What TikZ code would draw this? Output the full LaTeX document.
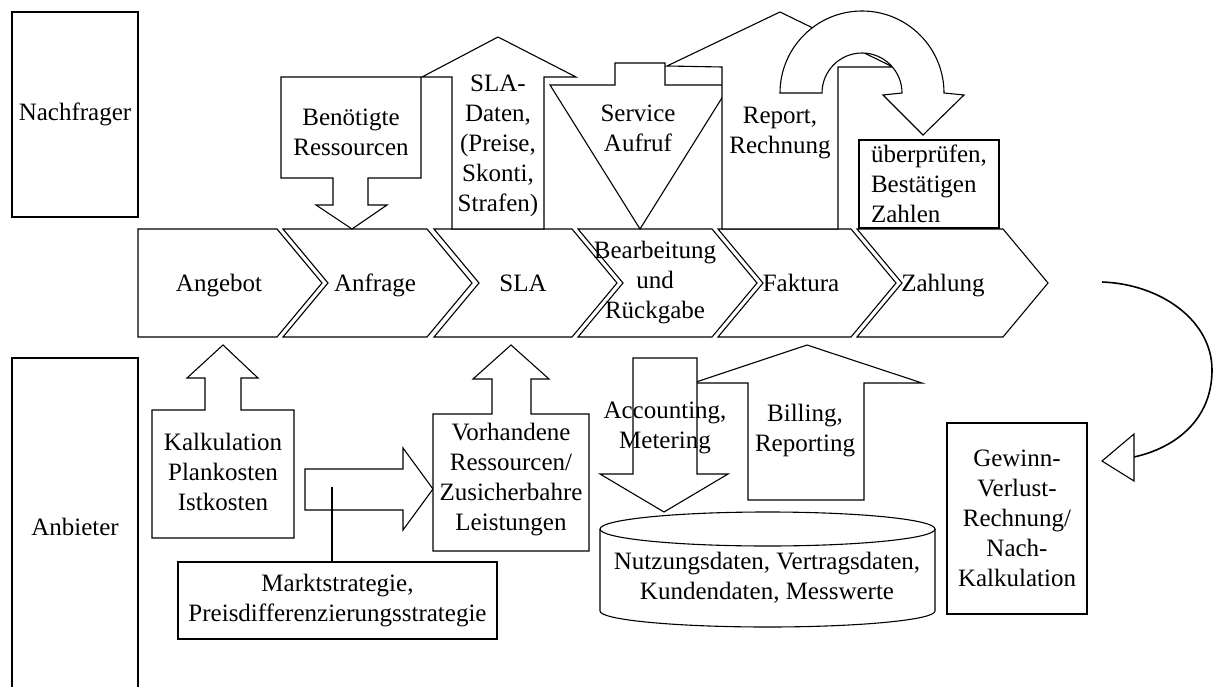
\documentclass[tikz,border=0pt]{standalone}
\usepackage{fontspec}
\setmainfont{Liberation Serif}
\newcommand\mydiafont{\fontsize{25}{30}\selectfont}
\tikzset{
  shp/.style={draw, line width=1.1pt, fill=white, line join=miter},
  lbl/.style={font=\mydiafont, align=center, inner sep=0pt},
  blbl/.style={font=\mydiafont, inner sep=0pt, anchor=base},
  box/.style={draw, line width=1.1pt, fill=white, font=\mydiafont, align=center, inner sep=0pt},
  conn/.style={draw, line width=1.1pt}
}
\begin{document}
\begin{tikzpicture}[x=1pt, y=-1pt]
\useasboundingbox (0,0) rectangle (1214,687);

% actor boxes
\node[box, minimum width=126pt, minimum height=205pt] (nach) at (75,114.5) {Nachfrager};
\draw[line width=1.1pt] (12,687) -- (12,358) -- (138,358) -- (138,687);
\node[blbl] (anb) at (75,535) {Anbieter};

% process chevrons
\draw[shp] (138,229) -- (277,229) -- (322,283) -- (277,337) -- (138,337) -- cycle;
\draw[shp] (283,229) -- (427,229) -- (472,283) -- (427,337) -- (283,337) -- (328,283) -- cycle;
\draw[shp] (434,229) -- (572,229) -- (617,283) -- (572,337) -- (434,337) -- (479,283) -- cycle;
\draw[shp] (578,229) -- (712,229) -- (757,283) -- (712,337) -- (578,337) -- (623,283) -- cycle;
\draw[shp] (718,229) -- (851,229) -- (896,283) -- (851,337) -- (718,337) -- (763,283) -- cycle;
\draw[shp] (857,229) -- (1003,229) -- (1048,283) -- (1003,337) -- (857,337) -- (902,283) -- cycle;
\node[blbl] (c1) at (219,291) {Angebot};
\node[blbl] (c2) at (375,291) {Anfrage};
\node[blbl] (c3) at (523,291) {SLA};
\node[lbl] (c4) at (655,283) {Bearbeitung\\und\\Rückgabe};
\node[blbl] (c5) at (801,291) {Faktura};
\node[blbl] (c6) at (943,291) {Zahlung};

% upper block arrows
\draw[shp] (281,77) -- (421,77) -- (421,178) -- (368,178) -- (368,205) -- (387,205) -- (352,229) -- (316,205) -- (333,205) -- (333,178) -- (281,178) -- cycle;
\node[lbl] (ben) at (351,132) {Benötigte\\Ressourcen};

\draw[shp] (452,229) -- (452,77) -- (422,77) -- (498,37) -- (576,77) -- (544,77) -- (544,229) -- cycle;
\node[lbl] (slad) at (498,146) {SLA-\\Daten,\\(Preise,\\Skonti,\\Strafen)};

\draw[shp] (615,63) -- (665,63) -- (665,85) -- (730,85) -- (640,229) -- (550,85) -- (615,85) -- cycle;
\node[lbl] (serv) at (638,128) {Service\\Aufruf};

\draw[shp] (722,229) -- (722,67) -- (667,66) -- (780,12) -- (893,67) -- (838,67) -- (838,229) -- cycle;
\node[lbl] (rep) at (780,133) {Report,\\Rechnung};

\draw[shp] (780,93) arc[start angle=180, end angle=360, radius=82] -- (964,95) -- (923,135) -- (883,95) -- (902,93) arc[start angle=0, end angle=-180, radius=40] -- cycle;

\node[box, minimum width=140pt, minimum height=88pt, text width=116pt, align=left] (ueb) at (929,184) {überprüfen,\\Bestätigen\\Zahlen};

% lower block arrows
\draw[shp] (152,538) -- (152,410) -- (205,410) -- (205,378) -- (187,378) -- (223,345) -- (258,378) -- (241,378) -- (241,410) -- (294,410) -- (294,538) -- cycle;
\node[lbl] (kalk) at (223,472) {Kalkulation\\Plankosten\\Istkosten};

\draw[shp] (305,469) -- (403,469) -- (403,448) -- (433,489) -- (403,530) -- (403,510) -- (305,510) -- cycle;
\node[box, minimum width=319pt, minimum height=77pt] (markt) at (337.5,600.5) {Marktstrategie,\\Preisdifferenzierungsstrategie};
\coordinate (mk) at (332,487);
\draw[conn] (markt.north -| mk) -- (mk);

\draw[shp] (433,551) -- (433,414) -- (492,414) -- (492,379) -- (473,379) -- (511,345) -- (549,379) -- (531,379) -- (531,414) -- (589,414) -- (589,551) -- cycle;
\node[lbl] (vorh) at (511,480) {Vorhandene\\Ressourcen/\\Zusicherbahre\\Leistungen};

\draw[shp] (748,500) -- (748,383) -- (693,383) -- (807,345) -- (922,383) -- (864,383) -- (864,500) -- cycle;
\node[lbl] (bill) at (805,431) {Billing,\\Reporting};

\draw[shp] (633,358) -- (697,358) -- (697,474) -- (728,474) -- (664,512) -- (600,474) -- (633,474) -- cycle;
\node[lbl] (acc) at (665,428) {Accounting,\\Metering};

% database
\draw[shp] (600,529) -- (600,611) arc[start angle=180, end angle=0, x radius=167.5, y radius=16] -- (935,529) arc[start angle=0, end angle=-180, x radius=167.5, y radius=17] -- cycle;
\draw[line width=1.1pt] (600,529) arc[start angle=180, end angle=0, x radius=167.5, y radius=17];
\node[lbl] (db) at (767,578) {Nutzungsdaten, Vertragsdaten,\\Kundendaten, Messwerte};

% result box
\node[box, minimum width=140pt, minimum height=191pt] (gew) at (1017,518.5) {Gewinn-\\Verlust-\\Rechnung/\\Nach-\\Kalkulation};

% feedback connector
\coordinate (cs) at (1102,282);
\coordinate (ce) at (1134,457);
\draw[line width=1.6pt] (cs) .. controls (1160,284) and (1212,320) .. (1212,370) .. controls (1212,420) and (1175,448) .. (ce);
\draw[shp] (1134,434) -- (1134,481) -- (1102,461) -- cycle;
\end{tikzpicture}
\end{document}
